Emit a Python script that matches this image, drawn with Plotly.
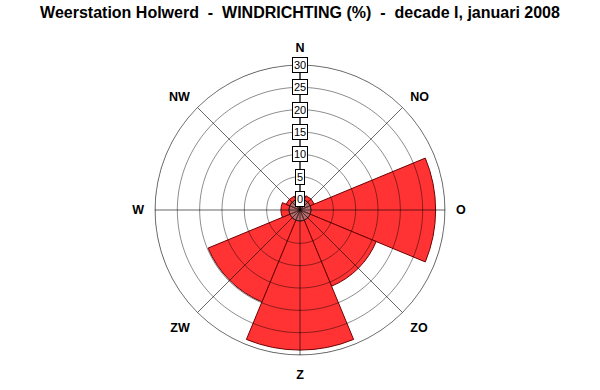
import plotly.graph_objects as go

# ---- data ----
directions = ["N", "NO", "O", "ZO", "Z", "ZW", "W", "NW"]
percentages = [0.6, 1.0, 27.9, 16.0, 28.9, 19.8, 1.8, 0.9]
radial_ticks = [0, 5, 10, 15, 20, 25, 30]
tick_labels = [str(t) for t in radial_ticks]
title_text = "Weerstation Holwerd\u00a0\u00a0-\u00a0\u00a0WINDRICHTING (%)\u00a0\u00a0-\u00a0\u00a0decade I, januari 2008"

# ---- layout constants ----
W, H = 600, 390
CX, CY, RAD = 300, 210, 145          # polar centre & radius (px)
R_MIN, R_MAX = -2.46, 30             # radial range (0 sits a bit off-centre)

n_dir = len(directions)
sector = 360 / n_dir
dir_angles = [i * sector for i in range(n_dir)]

dom_x = [(CX - RAD) / W, (CX + RAD) / W]
dom_y = [1 - (CY + RAD) / H, 1 - (CY - RAD) / H]

CIRCLE_COL = "rgba(0,0,0,0.45)"
SPOKE_COL = "rgba(0,0,0,0.6)"

fig = go.Figure()

# wind-direction bars
fig.add_trace(go.Barpolar(
    theta=dir_angles,
    r=[v - R_MIN for v in percentages],
    base=R_MIN,
    width=sector,
    marker=dict(color="#FF3333", line=dict(color="rgb(110,0,0)", width=1)),
    hoverinfo="skip",
    showlegend=False,
))

# translucent grey centre disc
fig.add_trace(go.Barpolar(
    theta=dir_angles,
    r=[0 - R_MIN] * n_dir,
    base=R_MIN,
    width=sector,
    marker=dict(color="rgba(140,140,140,0.65)", line=dict(color="rgb(90,40,40)", width=1)),
    hoverinfo="skip",
    showlegend=False,
))

# grid circles drawn above the bars
circ_theta = list(range(0, 361, 2))
for t in radial_ticks:
    fig.add_trace(go.Scatterpolar(
        theta=circ_theta, r=[t] * len(circ_theta), mode="lines",
        line=dict(color=CIRCLE_COL, width=1),
        hoverinfo="skip", showlegend=False,
    ))

# spokes drawn above the bars
for a in dir_angles:
    fig.add_trace(go.Scatterpolar(
        theta=[a, a], r=[R_MIN, R_MAX], mode="lines",
        line=dict(color=SPOKE_COL, width=1),
        hoverinfo="skip", showlegend=False,
    ))

# helper invisible cartesian axis used to place boxed radial tick labels
fig.add_trace(go.Scatter(
    x=[0], y=[0], mode="markers", marker=dict(opacity=0),
    hoverinfo="skip", showlegend=False, xaxis="x", yaxis="y",
))

for t, lab in zip(radial_ticks, tick_labels):
    fig.add_annotation(
        x=0, y=t, xref="x", yref="y", text=lab, showarrow=False,
        bgcolor="white", bordercolor="black", borderwidth=1, borderpad=1,
        font=dict(family="Liberation Sans, Arial", size=11, color="black"),
        xanchor="center", yanchor="middle",
    )

fig.update_layout(
    width=W, height=H,
    margin=dict(l=0, r=0, t=0, b=0),
    paper_bgcolor="white",
    plot_bgcolor="rgba(0,0,0,0)",
    title=dict(
        text=title_text, x=0.5, xanchor="center",
        y=1 - 12 / H, yanchor="middle", yref="container",
        font=dict(family="Liberation Sans, Arial", size=16,
                  color="black", weight="bold"),
    ),
    xaxis=dict(domain=[(CX - 20) / W, (CX + 20) / W], range=[-1, 1], visible=False, fixedrange=True),
    yaxis=dict(domain=[1 - CY / H, dom_y[1]], range=[R_MIN, R_MAX], visible=False, fixedrange=True),
    polar=dict(
        domain=dict(x=dom_x, y=dom_y),
        bgcolor="white",
        barmode="overlay",
        bargap=0,
        radialaxis=dict(
            range=[R_MIN, R_MAX],
            tickvals=radial_ticks,
            showticklabels=False,
            showgrid=False,
            ticks="",
            angle=90,
            showline=True, linecolor="black", linewidth=1,
            layer="above traces",
        ),
        angularaxis=dict(
            direction="clockwise",
            rotation=90,
            tickmode="array", tickvals=dir_angles, ticktext=directions,
            showgrid=False,
            showline=True, linecolor=CIRCLE_COL, linewidth=1,
            ticks="outside", ticklen=8, tickcolor="rgba(0,0,0,0)",
            tickfont=dict(family="Liberation Sans, Arial", size=12.5, color="black", weight="bold"),
            layer="above traces",
        ),
    ),
)

fig.write_html("out.html")
